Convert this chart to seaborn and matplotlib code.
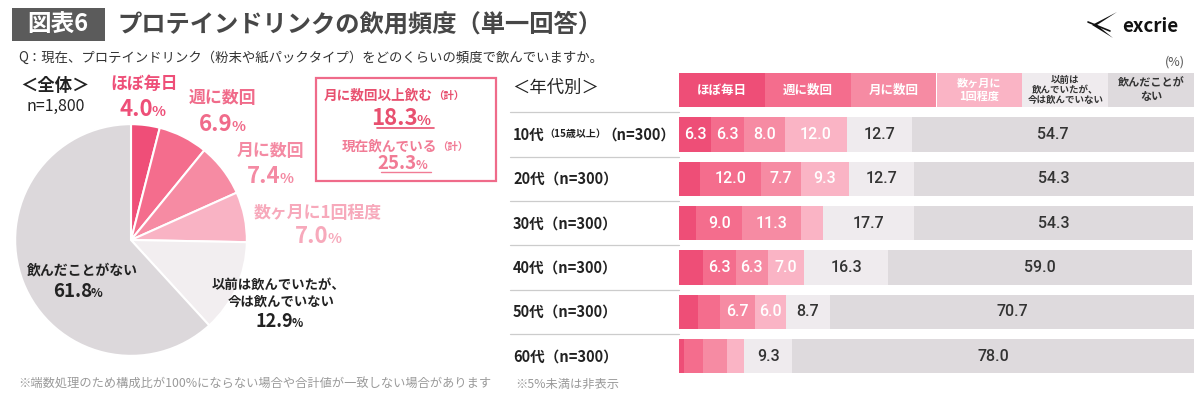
import matplotlib
matplotlib.use("Agg")
import matplotlib.pyplot as plt
from matplotlib.patches import Rectangle, Polygon
from matplotlib.lines import Line2D
import seaborn as sns
import pandas as pd
import numpy as np

# ---------------- data ----------------
categories = ['ほぼ毎日', '週に数回', '月に数回', '数ヶ月に1回程度',
              '以前は飲んでいたが、今は飲んでいない', '飲んだことがない']
overall = [4.0, 6.9, 7.4, 7.0, 12.9, 61.8]

header_labels = ['ほぼ毎日', '週に数回', '月に数回', '数ヶ月に\n1回程度',
                 '以前は\n飲んでいたが、\n今は飲んでいない', '飲んだことが\nない']

ages = ['10代', '20代', '30代', '40代', '50代', '60代']
age_notes = ['（15歳以上）', '', '', '', '', '']
age_n = ['（n=300）'] * 6
daily = [6.3, 4.0, 3.3, 4.7, 3.7, 1.0]
weekly = [6.3, 12.0, 9.0, 6.3, 4.3, 3.7]
monthly = [8.0, 7.7, 11.3, 6.3, 6.7, 4.7]
few_months = [12.0, 9.3, 4.3, 7.0, 6.0, 3.3]
former = [12.7, 12.7, 17.7, 16.3, 8.7, 9.3]
never = [54.7, 54.3, 54.3, 59.0, 70.7, 78.0]

total_monthly_plus = '18.3'
total_current = '25.3'

# ---------------- style ----------------
sns.set_style('white')
plt.rcParams['font.family'] = ['Noto Sans CJK JP', 'DejaVu Sans']

W, H = 1200, 408
fig = plt.figure(figsize=(12, 4.08), dpi=100)
fig.patch.set_facecolor('white')

def fx(x):
    return x / W

def fy(y):
    return 1 - y / H

def T(x, y, s, size, color='#333333', weight='normal', ha='center', va='center', **kw):
    return fig.text(fx(x), fy(y), s, fontsize=size, color=color, fontweight=weight,
                    ha=ha, va=va, **kw)

pie_colors = ['#ef4e78', '#f46d8d', '#f68ba3', '#f9b3c4', '#f2eef0', '#dcd8db']
bar_colors = ['#ee4e77', '#f46d8d', '#f68ba3', '#fab4c5', '#efebee', '#dedadd']
txt_colors = ['#ee4f78', '#f06b8a', '#f48aa3', '#f7a9bb']

# ---------------- title ----------------
fig.add_artist(Rectangle((fx(12), fy(41)), 93 / W, 33 / H, transform=fig.transFigure,
                         color='#5b5b5b', lw=0))
T(58, 25, '図表6', 17, color='white', weight='bold')
T(117, 25, 'プロテインドリンクの飲用頻度（単一回答）', 17.5, color='#474747',
  weight='bold', ha='left')
T(18, 58, 'Q：現在、プロテインドリンク（粉末や紙パックタイプ）をどのくらいの頻度で飲んでいますか。',
  9.6, color='#333333', ha='left')

# logo
fig.add_artist(Polygon([[fx(1117), fy(12)], [fx(1092), fy(25)], [fx(1113), fy(38)],
                        [fx(1097), fy(25)]], closed=True, transform=fig.transFigure,
                       color='#111111', lw=0))
fig.add_artist(Line2D([fx(1088), fx(1110)], [fy(22), fy(31)], transform=fig.transFigure,
                      color='#111111', lw=1.2))
T(1150, 26, 'excrie', 13.5, color='#111111', weight='bold')
T(1175, 62, '(%)', 9, color='#555555')

# ---------------- pie ----------------
T(55, 86, '＜全体＞', 12.5, color='#222222', weight='bold')
T(56, 106, 'n=1,800', 11.5, color='#222222')

ax_pie = fig.add_axes([fx(14), fy(357), 234 / W, 234 / H])
ax_pie.pie(overall, colors=pie_colors, startangle=90, counterclock=False,
           wedgeprops=dict(edgecolor='white', linewidth=1.5))
ax_pie.set_xlim(-1.01, 1.01)
ax_pie.set_ylim(-1.01, 1.01)
ax_pie.axis('off')

def pct(xsplit, y, val, size, color, weight='bold', psize=None):
    T(xsplit, y, val, size, color=color, weight=weight, ha='right', va='baseline')
    T(xsplit - 1, y, '%', psize or size * 0.65, color=color, weight=weight, ha='left',
      va='baseline')

pie_label_pos = [(144, 84), (222, 98), (270, 151), (318, 213)]
pie_pct_pos = [(153, 116), (233, 131), (280, 183), (328, 243)]
for i in range(4):
    T(pie_label_pos[i][0], pie_label_pos[i][1], categories[i], 12.2,
      color=txt_colors[i], weight='bold')
    pct(pie_pct_pos[i][0], pie_pct_pos[i][1], f'{overall[i]:.1f}', 16, txt_colors[i])

T(82, 270, categories[5], 10, color='#222222', weight='bold')
pct(92, 297, f'{overall[5]:.1f}', 13.5, '#222222')
T(279, 285, '以前は飲んでいたが、', 9.6, color='#222222', weight='bold')
T(281, 302, '今は飲んでいない', 9.6, color='#222222', weight='bold')
pct(293, 327, f'{overall[4]:.1f}', 13, '#222222')

# summary box
fig.add_artist(Rectangle((fx(316), fy(181)), 180 / W, 103 / H, transform=fig.transFigure,
                         fill=False, edgecolor='#ef6b8a', lw=1.6))
T(433, 96, '月に数回以上飲む', 9.8, color='#e8506f', weight='bold', ha='right')
T(433, 96, '（計）', 7.5, color='#e8506f', weight='bold', ha='left')
pct(418, 125, total_monthly_plus, 16, '#e8506f')
fig.add_artist(Line2D([fx(377), fx(434)], [fy(128), fy(128)], transform=fig.transFigure,
                      color='#e8506f', lw=1.2))
T(437, 147, '現在飲んでいる', 9.8, color='#f17b95', weight='bold', ha='right')
T(437, 147, '（計）', 7.5, color='#f17b95', weight='bold', ha='left')
pct(417, 169, total_current, 13.5, '#f17b95')
fig.add_artist(Line2D([fx(381), fx(431)], [fy(172), fy(172)], transform=fig.transFigure,
                      color='#f17b95', lw=1.0))

T(18, 384, '※端数処理のため構成比が100%にならない場合や合計値が一致しない場合があります',
  8.8, color='#9a9a9a', ha='left')
T(515, 384, '※5%未満は非表示', 8.8, color='#9a9a9a', ha='left')

# ---------------- stacked bars ----------------
T(512, 88, '＜年代別＞', 12.5, color='#222222', ha='left')

series = [daily, weekly, monthly, few_months, former, never]
df = pd.DataFrame({'age': ages})
for name, s in zip(categories, series):
    df[name] = s
cum = df[categories].cumsum(axis=1)

bx0, bx1 = 679, 1194
ytop, ybot = 112.3, 378.3
ax = fig.add_axes([fx(bx0), fy(ybot), (bx1 - bx0) / W, (ybot - ytop) / H])
for k in range(len(categories) - 1, -1, -1):
    sns.barplot(x=cum[categories[k]], y=df['age'], orient='h', color=bar_colors[k],
                saturation=1, width=0.77, linewidth=0, ax=ax)
ax.set_xlim(0, 100)
ax.set_ylim(5.5, -0.5)
ax.axis('off')

for k in range(len(categories)):
    col = 'white' if k < 4 else '#333333'
    for r in range(len(ages)):
        v = series[k][r]
        if v >= 5:
            ax.text(cum[categories[k]][r] - v / 2, r, f'{v:.1f}', ha='center', va='center',
                    fontsize=11.5, color=col, fontweight='medium',
                    family=['Roboto', 'DejaVu Sans'], fontstretch='condensed')

# header cells
cw = (bx1 - bx0) / 6
hsizes = [9, 9, 9, 8, 6.8, 8]
for k in range(6):
    x0 = bx0 + k * cw
    fig.add_artist(Rectangle((fx(x0), fy(107)), cw / W, 34 / H, transform=fig.transFigure,
                             color=bar_colors[k], lw=0))
    T(x0 + cw / 2, 90, header_labels[k], hsizes[k],
      color='white' if k < 4 else '#333333', weight='bold', linespacing=1.05)

# row labels and separators
pitch = (ybot - ytop) / 6
for r in range(6):
    yc = ytop + pitch * (r + 0.5)
    if age_notes[r]:
        T(513, yc, ages[r], 10.5, color='#222222', weight='bold', ha='left')
        T(544, yc, age_notes[r], 7.2, color='#222222', weight='bold', ha='left')
        T(675, yc, age_n[r], 10.5, color='#222222', weight='bold', ha='right')
    else:
        T(513, yc, ages[r] + age_n[r], 10.5, color='#222222', weight='bold', ha='left')
for r in range(6):
    yl = ytop + pitch * r
    fig.add_artist(Line2D([fx(510), fx(bx0)], [fy(yl), fy(yl)], transform=fig.transFigure,
                          color='#cccccc', lw=0.9))

fig.savefig('out.png', dpi=100, facecolor='white')
